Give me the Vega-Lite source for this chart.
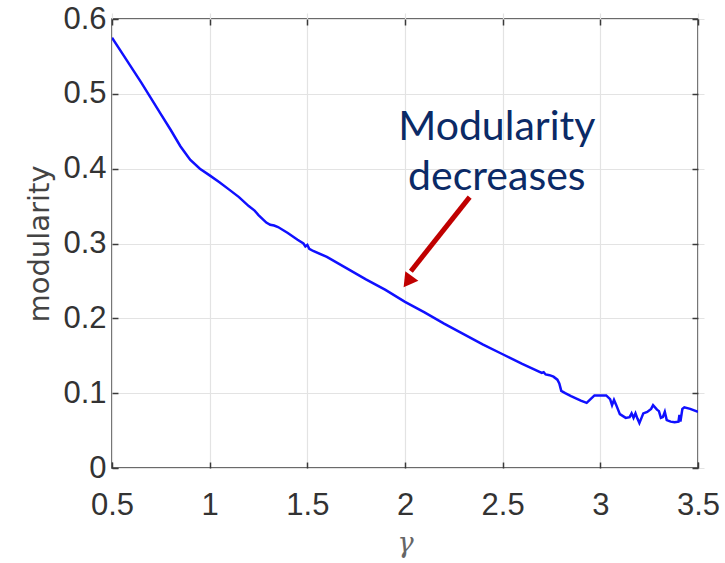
{
  "$schema": "https://vega.github.io/schema/vega-lite/v6.json",
  "width": 586,
  "height": 449,
  "autosize": "none",
  "padding": {"left": 112, "top": 19, "right": 27, "bottom": 95},
  "background": "white",
  "config": {
    "view": {"stroke": "#3a3a3a", "strokeWidth": 1.5},
    "axis": {
      "labelFont": "Liberation Sans", "labelFontSize": 31, "labelColor": "#333333",
      "labelFlush": false, "format": "~g",
      "titleColor": "#333333", "domain": false,
      "tickColor": "#3a3a3a", "tickSize": 6, "tickWidth": 1.5, "offset": -6,
      "gridColor": "#e3e3e3", "gridWidth": 1.2
    }
  },
  "datasets": {
    "curve": [
      {"g": 0.5, "m": 0.575}, {"g": 0.55, "m": 0.555}, {"g": 0.6, "m": 0.535}, {"g": 0.65, "m": 0.515},
      {"g": 0.7, "m": 0.494}, {"g": 0.75, "m": 0.473}, {"g": 0.8, "m": 0.452}, {"g": 0.85, "m": 0.430},
      {"g": 0.875, "m": 0.421}, {"g": 0.9, "m": 0.412}, {"g": 0.95, "m": 0.400}, {"g": 1.0, "m": 0.391},
      {"g": 1.05, "m": 0.382}, {"g": 1.1, "m": 0.372}, {"g": 1.15, "m": 0.362}, {"g": 1.2, "m": 0.350},
      {"g": 1.23, "m": 0.344}, {"g": 1.25, "m": 0.338}, {"g": 1.27, "m": 0.333}, {"g": 1.29, "m": 0.328},
      {"g": 1.31, "m": 0.325}, {"g": 1.33, "m": 0.324}, {"g": 1.35, "m": 0.322}, {"g": 1.4, "m": 0.314},
      {"g": 1.45, "m": 0.305}, {"g": 1.48, "m": 0.300}, {"g": 1.49, "m": 0.296}, {"g": 1.5, "m": 0.298},
      {"g": 1.51, "m": 0.293}, {"g": 1.53, "m": 0.290}, {"g": 1.6, "m": 0.282}, {"g": 1.7, "m": 0.267},
      {"g": 1.8, "m": 0.252}, {"g": 1.9, "m": 0.238}, {"g": 2.0, "m": 0.222}, {"g": 2.1, "m": 0.208},
      {"g": 2.2, "m": 0.193}, {"g": 2.3, "m": 0.179}, {"g": 2.4, "m": 0.165}, {"g": 2.5, "m": 0.152},
      {"g": 2.6, "m": 0.139}, {"g": 2.7, "m": 0.127}, {"g": 2.71, "m": 0.128}, {"g": 2.72, "m": 0.125},
      {"g": 2.74, "m": 0.124}, {"g": 2.76, "m": 0.122}, {"g": 2.78, "m": 0.118}, {"g": 2.79, "m": 0.113},
      {"g": 2.8, "m": 0.103}, {"g": 2.82, "m": 0.100}, {"g": 2.85, "m": 0.096}, {"g": 2.9, "m": 0.090},
      {"g": 2.93, "m": 0.087}, {"g": 2.95, "m": 0.092}, {"g": 2.97, "m": 0.097}, {"g": 3.0, "m": 0.097},
      {"g": 3.03, "m": 0.097}, {"g": 3.05, "m": 0.092}, {"g": 3.06, "m": 0.084}, {"g": 3.07, "m": 0.091},
      {"g": 3.08, "m": 0.085}, {"g": 3.1, "m": 0.072}, {"g": 3.13, "m": 0.067}, {"g": 3.15, "m": 0.068},
      {"g": 3.16, "m": 0.073}, {"g": 3.17, "m": 0.067}, {"g": 3.18, "m": 0.073}, {"g": 3.19, "m": 0.066},
      {"g": 3.2, "m": 0.060}, {"g": 3.22, "m": 0.073}, {"g": 3.24, "m": 0.075}, {"g": 3.26, "m": 0.079},
      {"g": 3.27, "m": 0.084}, {"g": 3.29, "m": 0.078}, {"g": 3.3, "m": 0.076}, {"g": 3.31, "m": 0.067},
      {"g": 3.32, "m": 0.068}, {"g": 3.33, "m": 0.075}, {"g": 3.34, "m": 0.064}, {"g": 3.36, "m": 0.062},
      {"g": 3.38, "m": 0.061}, {"g": 3.4, "m": 0.062}, {"g": 3.405, "m": 0.071}, {"g": 3.41, "m": 0.062},
      {"g": 3.42, "m": 0.079}, {"g": 3.43, "m": 0.081}, {"g": 3.46, "m": 0.079}, {"g": 3.5, "m": 0.075}
    ],
    "note": [
      {"g": 2.47, "m": 0.4385, "label": "Modularity"},
      {"g": 2.47, "m": 0.3717, "label": "decreases"}
    ],
    "arrow": [
      {"g": 2.331, "m": 0.362, "g2": 2.03, "m2": 0.263}
    ],
    "head": [
      {"g": 2.014, "m": 0.249}
    ]
  },
  "resolve": {"axis": {"x": "independent", "y": "independent"}},
  "layer": [
    {
      "data": {"name": "curve"},
      "mark": {"type": "line", "color": "#1010ff", "strokeWidth": 2.5, "clip": true},
      "encoding": {
        "x": {"field": "g", "type": "quantitative", "scale": {"domain": [0.5, 3.5], "nice": false, "zero": false},
              "axis": {"values": [0.5, 1, 1.5, 2, 2.5, 3, 3.5], "labelPadding": 22, "title": "γ",
                       "titleFont": "DejaVu Serif", "titleFontStyle": "italic", "titleFontWeight": "normal",
                       "titleFontSize": 27, "titleColor": "#666666", "titlePadding": 10}},
        "y": {"field": "m", "type": "quantitative", "scale": {"domain": [0, 0.6], "nice": false},
              "axis": {"values": [0, 0.1, 0.2, 0.3, 0.4, 0.5, 0.6], "labelPadding": 6, "title": "modularity",
                       "titleFont": "DejaVu Sans", "titleFontWeight": "normal", "titleFontSize": 29, "titleColor": "#444444", "titlePadding": 8}}
      }
    },
    {
      "data": {"name": "curve"},
      "mark": {"type": "point", "opacity": 0},
      "encoding": {
        "x": {"field": "g", "type": "quantitative",
              "axis": {"orient": "top", "values": [0.5, 1, 1.5, 2, 2.5, 3, 3.5], "labels": false, "grid": false, "title": null}},
        "y": {"field": "m", "type": "quantitative",
              "axis": {"orient": "right", "values": [0, 0.1, 0.2, 0.3, 0.4, 0.5, 0.6], "labels": false, "grid": false, "title": null}}
      }
    },
    {
      "data": {"name": "arrow"},
      "mark": {"type": "rule", "color": "#c00000", "strokeWidth": 5},
      "encoding": {
        "x": {"field": "g", "type": "quantitative", "axis": null},
        "y": {"field": "m", "type": "quantitative", "axis": null},
        "x2": {"field": "g2"},
        "y2": {"field": "m2"}
      }
    },
    {
      "data": {"name": "head"},
      "mark": {"type": "point", "shape": "triangle-up", "filled": true, "color": "#c00000", "opacity": 1, "size": 260, "angle": 216},
      "encoding": {
        "x": {"field": "g", "type": "quantitative", "axis": null},
        "y": {"field": "m", "type": "quantitative", "axis": null}
      }
    },
    {
      "data": {"name": "note"},
      "mark": {"type": "text", "font": "Lato", "fontSize": 41, "color": "#0b2a66", "align": "center", "baseline": "alphabetic"},
      "encoding": {
        "x": {"field": "g", "type": "quantitative", "axis": null},
        "y": {"field": "m", "type": "quantitative", "axis": null},
        "text": {"field": "label"}
      }
    }
  ]
}
